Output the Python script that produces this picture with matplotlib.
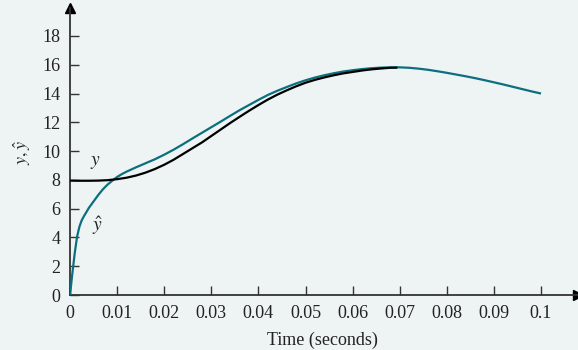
import matplotlib
matplotlib.use("Agg")
import matplotlib.pyplot as plt

# Data: estimate y_hat (teal) and y (black)
t_hat = [0, 0.0005, 0.001, 0.0015, 0.002, 0.0025, 0.003, 0.004, 0.005, 0.006, 0.007, 0.008,
         0.009, 0.010, 0.011, 0.012, 0.014, 0.016, 0.018, 0.020, 0.022, 0.024, 0.026, 0.028,
         0.030, 0.032, 0.034, 0.036, 0.038, 0.040, 0.042, 0.044, 0.046, 0.048, 0.050, 0.052,
         0.054, 0.056, 0.058, 0.060, 0.062, 0.064, 0.066, 0.068, 0.070, 0.072, 0.074, 0.076,
         0.078, 0.080, 0.082, 0.084, 0.086, 0.088, 0.090, 0.092, 0.094, 0.096, 0.098, 0.100]
y_hat = [0, 1.5, 2.9, 4.05, 4.75, 5.2, 5.5, 6.05, 6.5, 6.95, 7.35, 7.68,
         7.95, 8.2, 8.4, 8.57, 8.87, 9.15, 9.43, 9.75, 10.1, 10.48, 10.88, 11.27,
         11.66, 12.05, 12.45, 12.84, 13.2, 13.56, 13.9, 14.19, 14.45, 14.7, 14.92, 15.11,
         15.27, 15.41, 15.53, 15.62, 15.7, 15.76, 15.8, 15.82, 15.82, 15.79, 15.73, 15.65,
         15.55, 15.44, 15.32, 15.2, 15.07, 14.93, 14.78, 14.63, 14.47, 14.31, 14.15, 14.0]

t_y = [0, 0.002, 0.004, 0.006, 0.008, 0.010, 0.012, 0.014, 0.016, 0.018, 0.020, 0.022,
       0.024, 0.026, 0.028, 0.030, 0.032, 0.034, 0.036, 0.038, 0.040, 0.042, 0.044, 0.046,
       0.048, 0.050, 0.052, 0.054, 0.056, 0.058, 0.060, 0.062, 0.064, 0.066, 0.068, 0.0695]
y_val = [7.95, 7.94, 7.94, 7.95, 7.98, 8.05, 8.15, 8.3, 8.5, 8.75, 9.05, 9.4,
         9.8, 10.2, 10.6, 11.05, 11.5, 11.95, 12.38, 12.8, 13.2, 13.58, 13.92, 14.22,
         14.5, 14.75, 14.95, 15.12, 15.27, 15.4, 15.5, 15.6, 15.68, 15.74, 15.79, 15.8]

xticks = [0, 0.01, 0.02, 0.03, 0.04, 0.05, 0.06, 0.07, 0.08, 0.09, 0.1]
xticklabels = ["0", "0.01", "0.02", "0.03", "0.04", "0.05", "0.06", "0.07", "0.08", "0.09", "0.1"]
yticks = [0, 2, 4, 6, 8, 10, 12, 14, 16, 18]

BG = "#EEF3F3"
TEAL = "#0B6F7E"
AX = "#333333"

plt.rcParams["font.family"] = ["Liberation Serif", "DejaVu Serif"]
plt.rcParams["mathtext.fontset"] = "stix"

fig = plt.figure(figsize=(5.78, 3.5), dpi=100, facecolor=BG)
W, H = 578, 350
ax = fig.add_axes([70 / W, (H - 295) / H, 508 / W, 287 / H])
ax.set_facecolor(BG)

ax.plot(t_hat, y_hat, color=TEAL, lw=1.6, solid_capstyle="butt", solid_joinstyle="round", zorder=3)
ax.plot(t_y, y_val, color="black", lw=1.6, solid_capstyle="butt", solid_joinstyle="round", zorder=4)

ax.set_xlim(0, 508 / 4710)
ax.set_ylim(0, 287 / 14.39)
ax.set_xticks(xticks)
ax.set_xticklabels(xticklabels)
ax.set_yticks(yticks)
ax.tick_params(direction="in", length=6.5, width=1.0, color=AX, labelsize=13, pad=7,
               labelcolor="#222222")

for s in ["top", "right"]:
    ax.spines[s].set_visible(False)
for s in ["left", "bottom"]:
    ax.spines[s].set_color(AX)
    ax.spines[s].set_linewidth(1.3)

# arrow heads
ax.plot(1, 0, ">", color="black", markersize=7, transform=ax.transAxes, clip_on=False)
ax.plot(0, 1, "^", color="black", markersize=7, transform=ax.transAxes, clip_on=False)

ax.text(0.0053, 9.2, r"$y$", fontsize=14, ha="center", va="center", color="#222222")
ax.text(0.0059, 4.8, r"$\hat{y}$", fontsize=14, ha="center", va="center", color="#222222")

fig.text(22 / W, 1 - 152 / H, r"$y,\hat{y}$", rotation=90, fontsize=13,
         ha="center", va="center", color="#222222")
fig.text(322 / W, 1 - 340 / H, "Time (seconds)", fontsize=13, ha="center", va="center",
         color="#222222")

fig.savefig("out.png", dpi=100, facecolor=BG)
